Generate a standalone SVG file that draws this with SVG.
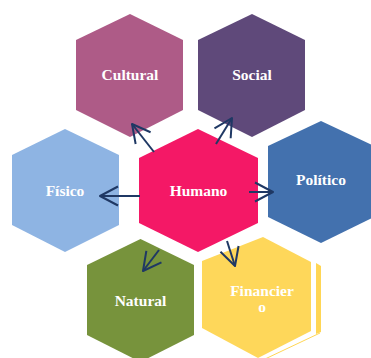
<svg xmlns="http://www.w3.org/2000/svg" width="371" height="358" viewBox="0 0 371 358">
<style>
text{font-family:"Liberation Serif","Times New Roman",serif;font-weight:bold;font-size:15.5px;fill:#ffffff;text-anchor:middle}
.c{fill:none;stroke:#1F3864;stroke-width:2}
</style>
<defs>
<marker id="a" viewBox="-20 -11 22 22" refX="0" refY="0" markerWidth="22" markerHeight="22" markerUnits="userSpaceOnUse" orient="auto">
<path d="M-18,-9.5 L0,0 L-18,9.5" fill="none" stroke="#1F3864" stroke-width="2" stroke-linejoin="round"/>
</marker>
</defs>
<rect width="371" height="358" fill="#ffffff"/>
<g id="cultural"><polygon points="130,14 183,40 183,110 130,137 76,110 76,40" fill="#AE5B87"/><text x="130" y="80">Cultural</text></g>
<g id="social"><polygon points="252,14 305,40 305,110 252,137 198,110 198,40" fill="#5F497A"/><text x="252" y="80">Social</text></g>
<g id="fisico"><polygon points="65,129 119,155 119,225 65,252 12,225 12,155" fill="#8EB4E3"/><text x="65" y="196">Físico</text></g>
<g id="politico"><polygon points="321,121 374,146 374,217 321,243 268,217 268,146" fill="#4371AE"/><text x="321" y="185">Político</text></g>
<g id="humano"><polygon points="198,129 258,158 258,223 198,252 139,223 139,158" fill="#F41866"/><text x="198.5" y="196">Humano</text></g>
<g id="natural"><polygon points="140.5,239 194,265 194,335 140.5,362 87,335 87,265" fill="#77933C"/><text x="140.5" y="306">Natural</text></g>
<g id="financiero">
<polygon points="316,263 321,266 321,332 316,334" fill="#FFD655"/>
<line x1="320" y1="333" x2="265" y2="359" stroke="#FFD655" stroke-width="1"/>
<polygon points="263,237 311,262 311,331 258,358 202,328 202,261" fill="#FED75A"/>
<text x="262" y="296">Financier</text><text x="262" y="312">o</text>
</g>
<g id="connectors">
<line class="c" x1="154" y1="152" x2="132" y2="124" marker-end="url(#a)"/>
<line class="c" x1="216" y1="144" x2="232" y2="118" marker-end="url(#a)"/>
<line class="c" x1="140" y1="196" x2="100" y2="196" marker-end="url(#a)"/>
<line class="c" x1="249" y1="192" x2="273" y2="192" marker-end="url(#a)"/>
<line class="c" x1="159" y1="250" x2="143" y2="271" marker-end="url(#a)"/>
<line class="c" x1="227" y1="241" x2="235" y2="266" marker-end="url(#a)"/>
</g>
</svg>
